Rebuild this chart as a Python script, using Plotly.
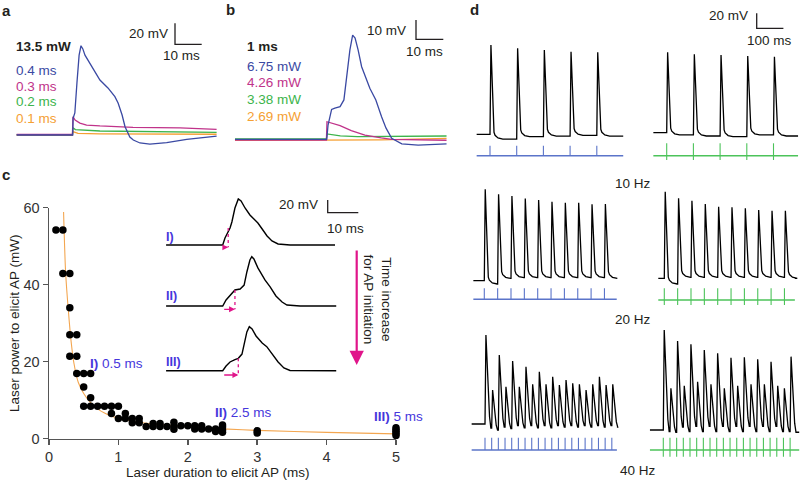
import plotly.graph_objects as go

W, H = 800, 480
FONT = "Arial, 'Liberation Sans', Helvetica, sans-serif"
INK = "#231f20"
BLUE = "#3a49a3"
MAGENTA = "#c0338a"
GREEN = "#3cb44b"
ORANGE = "#f5a033"
VIOLET = "#4636dc"
PINK = "#e0158a"
STIM_BLUE = "#5b74c9"
STIM_GREEN = "#4cc35a"

# ======================= DATA =======================
# --- a: 13.5 mW pulses of different durations (ms from light onset, mV from rest)
a_power_label = "13.5 mW"
a_labels = ["0.4 ms", "0.3 ms", "0.2 ms", "0.1 ms"]
a_t_04 = [-21, 0, 0.15, 0.8, 1.6, 2.4, 3.1, 3.8, 4.6, 6.5, 10.2, 13.2, 15.8, 17.0, 18.5, 19.6, 21.4, 22.7, 25.2, 28.9, 35.2, 42.7, 53.9]
a_v_04 = [0, 0, 16, 21, 50, 76, 85, 82, 76, 68.3, 52.4, 44.8, 36.5, 30.5, 19, 7.9, -1.9, -4.8, -7.6, -8.6, -7.3, -4.1, -1.0]
a_t_03 = [-21, -0.1, 0.1, 0.9, 2.7, 5.2, 10.2, 22.6, 40.2, 53.9]
a_v_03 = [0.5, 0.5, 17.4, 14.3, 11.4, 9.5, 8.6, 7.3, 6.7, 5.4]
a_t_02 = [-21, -0.1, 0.1, 1.0, 10.2, 30, 53.9]
a_v_02 = [0.3, 0.3, 7.0, 5.2, 3.8, 3.0, 2.5]
a_t_01 = [-21, -0.1, 0.1, 2.0, 10.2, 53.9]
a_v_01 = [-0.3, -0.3, 3.2, 1.5, 1.0, 0.7]

# --- b: 1 ms pulses of different powers
b_duration_label = "1 ms"
b_labels = ["6.75 mW", "4.26 mW", "3.38 mW", "2.69 mW"]
b_t_675 = [-33.6, 0, 0.5, 1.8, 3.0, 4.9, 6.3, 7.4, 8.5, 9.5, 10.4, 11.5, 12.8, 15.8, 18.0, 20.1, 21.7, 23.8, 27.5, 33.5, 43.9]
b_v_675 = [0, 0, 7.4, 15.5, 16.2, 16.9, 20.4, 33.3, 46.3, 54, 52.5, 46.3, 37.6, 26.4, 20.4, 11.7, 5.9, 0.5, -2.4, -3.0, -2.4]
b_t_426 = [-33.6, -0.1, 0.1, 2, 4.9, 9, 14, 20, 23.8, 43.9]
b_v_426 = [-0.4, -0.4, 9.1, 8.3, 7.1, 4.5, 2.2, 0.7, 0, -0.5]
b_t_338 = [-33.6, -0.1, 0.1, 5, 11.3, 43.9]
b_v_338 = [0.2, 0.2, 2.8, 1.8, 1.4, 1.7]
b_t_269 = [-33.6, 0, 20, 43.9]
b_v_269 = [-0.6, -0.6, -0.3, 0.5]

# --- c: threshold power vs pulse duration
c_duration = [0.1, 0.2, 0.2, 0.3, 0.3, 0.3, 0.4, 0.3, 0.4, 0.4, 0.5, 0.6, 0.5, 0.6,
              0.5, 0.6, 0.7, 0.8, 0.9, 1.0, 0.9, 1.1, 1.0, 1.1, 1.2, 1.3, 1.2, 1.3,
              1.4, 1.5, 1.5, 1.6, 1.6, 1.7, 1.8, 1.8, 1.8, 1.9, 2.0, 2.1, 2.1, 2.2, 2.2,
              2.3, 2.4, 2.4, 2.5, 2.5, 2.5, 2.5, 3.0, 3.0, 5.0, 5.0, 5.0, 5.0, 5.0]
c_power = [54.2, 54.2, 42.9, 42.9, 34.0, 27.0, 27.0, 21.4, 21.4, 16.9, 16.9, 16.9, 13.4, 10.6,
           8.4, 8.4, 8.4, 8.4, 8.4, 8.4, 6.5, 6.5, 5.2, 5.2, 5.2, 5.2, 4.1, 4.1,
           3.1, 3.9, 3.1, 3.9, 3.1, 3.1, 4.2, 3.1, 2.4, 3.3, 3.3, 3.3, 2.5, 3.3, 2.5,
           2.5, 2.5, 1.8, 3.5, 3.0, 2.2, 1.6, 2.0, 1.4, 2.8, 2.3, 1.8, 1.3, 0.8]
c_fit_t = [0.21, 0.24, 0.28, 0.32, 0.36, 0.42, 0.5, 0.6, 0.7, 0.8, 0.9, 1.0, 1.2, 1.5, 2.0, 2.5, 3.0, 4.0, 5.0]
c_fit_p = [58.9, 43, 33, 25, 19.5, 14.7, 11.7, 9.3, 7.7, 6.6, 5.8, 5.3, 4.5, 3.8, 3.0, 2.5, 2.1, 1.6, 1.2]
c_xticks = [0, 1, 2, 3, 4, 5]
c_yticks = [0, 20, 40, 60]
c_marks = ["I)", "II)", "III)"]
c_mark_values = ["0.5 ms", "2.5 ms", "5 ms"]

# inset traces (ms from light onset, mV from rest)
inset_t_I = [-18.5, 0, 0.75, 1.7, 2.4, 3.0, 4.0, 5.1, 6.0, 7.3, 8.9, 10.2, 11.5, 12.9, 14.5, 16.1, 18.1, 22, 36.7]
inset_v_I = [0, 0, 11, 20.5, 26.8, 36.2, 58.3, 72.5, 69.3, 58.3, 47.3, 41, 34.7, 25.2, 14.2, 6.3, 1.6, 0, 0]
inset_t_II = [-18.5, 0, 1.1, 2.4, 4.0, 5.7, 7.0, 7.9, 8.9, 9.5, 10.2, 11.5, 13.8, 15.5, 17.4, 19.4, 21, 25.3, 37.1]
inset_v_II = [0, 0, 9.5, 17.3, 25.2, 26.8, 33, 53.6, 72.5, 77.6, 74, 60, 41, 30, 15.8, 6.3, 1.6, 0, 0]
inset_t_III = [-18.5, 0, 1.1, 2.4, 4.0, 5.1, 6.3, 7.3, 7.9, 8.7, 9.6, 10.9, 12.9, 14.4, 16.1, 18.1, 20.0, 22, 37.1]
inset_v_III = [0, 0, 7.4, 13.7, 17.6, 19.5, 26.2, 45.2, 61, 69.3, 65.7, 54.7, 43.6, 37.8, 26.3, 13.7, 4.3, 0.3, 0]
inset_delay = [1.8, 4.0, 5.1]          # AP initiation time (ms)
inset_delay_v = [26.8, 25.2, 19.5]     # membrane potential at initiation (mV)

# --- d: trains (spike peak / following trough in mV from rest)
d_rates = ["10 Hz", "20 Hz", "40 Hz"]
d_interval = [100, 50, 25]
d10_blue_peaks = [119, 114.7, 112.4, 110.1, 109.3]
d10_blue_troughs = [-6.3, -3.2, -2.3, -1.3, -2.3]
d10_green_peaks = [107.2, 104.5, 103.6, 102.2, 101.3]
d10_green_troughs = [-3, -4.4, -5.3, -3, -4.4]
d20_blue_peaks = [121.9, 115.2, 112.9, 109.7, 107.6, 105.3, 104, 104, 101.8, 102.2]
d20_blue_troughs = [-4.4, 3, 4, 4, 4, 4, 4, 4, 4, 3]
d20_green_peaks = [115.5, 106.7, 103.4, 99, 95.5, 94.7, 93.3, 91.1, 90.1, 90.1]
d20_green_troughs = [-7.6, 1.3, 1.3, 1.3, 1.3, 1.3, 1.3, 1.3, 1.3, 0]
d40_blue_peaks = [118.7, 45.3, 92, 49.7, 84, 49.7, 76.4, 52.9, 69.7, 52.9,
                  63, 52, 58.7, 54.3, 52.9, 45.3, 52.9, 63, 52, 52.9]
d40_blue_troughs = [-5.3, -8, -4, -6, -2, -5, -2, -5, -2, -5,
                    -2, -4, -2, -4, -2, -4, -2, -4, -2, -4]
d40_green_peaks = [133.3, 55.6, 118.7, 58.9, 114.2, 64.4, 106.7, 60.9, 102.2, 55.6,
                   96.4, 58.9, 97, 60.9, 94.2, 60.9, 91.1, 58.9, 55.6, 97.8]
d40_green_troughs = [-2, -3, 4, -2, 5, -2, 5, -2, 5, -2,
                     5, -2, 5, -2, 5, -2, 5, -2, -2, -3]

# ======================= FIGURE =======================
fig = go.Figure()
layout = {}
AX = {}


def make_axes(idx, px_x, px_y, origin, upp):
    """hidden axis pair; px_x=(left,right), px_y=(top,bottom), origin px, units per px"""
    ox, oy = origin
    xs, ys = upp
    xn = "xaxis" if idx == 1 else f"xaxis{idx}"
    yn = "yaxis" if idx == 1 else f"yaxis{idx}"
    xr = "x" if idx == 1 else f"x{idx}"
    yr = "y" if idx == 1 else f"y{idx}"
    layout[xn] = dict(domain=[px_x[0] / W, px_x[1] / W],
                      range=[(px_x[0] - ox) * xs, (px_x[1] - ox) * xs],
                      visible=False, fixedrange=True, anchor=yr, automargin=False)
    layout[yn] = dict(domain=[1 - px_y[1] / H, 1 - px_y[0] / H],
                      range=[(oy - px_y[1]) * ys, (oy - px_y[0]) * ys],
                      visible=False, fixedrange=True, anchor=xr, automargin=False)
    AX[idx] = dict(x=xr, y=yr, origin=origin, upp=upp)


def to_data(idx, px, py):
    a = AX[idx]
    return (px - a["origin"][0]) * a["upp"][0], (a["origin"][1] - py) * a["upp"][1]


def line(idx, x, y, color, width=1.3, dash="solid"):
    fig.add_trace(go.Scatter(x=x, y=y, mode="lines", xaxis=AX[idx]["x"], yaxis=AX[idx]["y"],
                             line=dict(color=color, width=width, dash=dash),
                             hoverinfo="skip", showlegend=False, cliponaxis=False))


def scalebar(idx, px, py, dx, dy, color=INK):
    cx, cy = to_data(idx, px, py)
    line(idx, [cx, cx, cx + dx], [cy + dy, cy, cy], color, 1.3)


ann = []


def text(s, x, y, size=13.5, color=INK, xanchor="left", angle=0):
    ann.append(dict(text=s, x=x / W, y=1 - y / H, xref="paper", yref="paper",
                    showarrow=False, xanchor=xanchor, yanchor="middle", textangle=angle,
                    font=dict(family=FONT, size=size, color=color)))


# ---------- panel a ----------
make_axes(1, (10, 225), (15, 150), (72.7, 135), (10 / 26.7, 20 / 21))
for t, v, c in [(a_t_01, a_v_01, ORANGE), (a_t_02, a_v_02, GREEN),
                (a_t_03, a_v_03, MAGENTA), (a_t_04, a_v_04, BLUE)]:
    line(1, t, v, c)
scalebar(1, 175, 44.3, 10, 20)
text("<b>a</b>", 0, 10, 15)
text(f"<b>{a_power_label}</b>", 14, 46.7, 13.5)
for lab, yy, c in zip(a_labels, [70, 86, 101.7, 118.3], [BLUE, MAGENTA, GREEN, ORANGE]):
    text(lab, 14, yy, 13.5, c)
text("20 mV", 170, 33.3, 13.5, INK, "right")
text("10 ms", 181.5, 55, 13.5, INK, "center")

# ---------- panel b ----------
make_axes(2, (228, 450), (15, 150), (326.7, 139.3), (10 / 27.3, 10 / 19.3))
for t, v, c in [(b_t_269, b_v_269, ORANGE), (b_t_338, b_v_338, GREEN),
                (b_t_426, b_v_426, MAGENTA), (b_t_675, b_v_675, BLUE)]:
    line(2, t, v, c)
scalebar(2, 416, 39.3, 10, 10)
text("<b>b</b>", 224, 9, 15)
text(f"<b>{b_duration_label}</b>", 245, 46.7, 13.5)
for lab, yy, c in zip(b_labels, [66.7, 82.7, 99.3, 116.7], [BLUE, MAGENTA, GREEN, ORANGE]):
    text(lab, 245, yy, 13.5, c)
text("10 mV", 408, 30, 13.5, INK, "right")
text("10 ms", 424, 51.7, 13.5, INK, "center")

# ---------- panel c ----------
axstyle = dict(showline=True, linecolor="#555", linewidth=1.5, ticks="outside", ticklen=5,
               tickwidth=1.5, tickcolor="#555", showgrid=False, zeroline=False, automargin=False,
               tickfont=dict(family=FONT, size=14.5, color="#333"), fixedrange=True)
layout["xaxis3"] = dict(domain=[49 / W, 396 / W], range=[0, 5], tickvals=c_xticks,
                        anchor="y3", **axstyle)
layout["yaxis3"] = dict(domain=[1 - 438.5 / H, 1 - 207.7 / H], range=[0, 60], tickvals=c_yticks,
                        anchor="x3", **axstyle)
fig.add_trace(go.Scatter(x=c_fit_t, y=c_fit_p, mode="lines", xaxis="x3", yaxis="y3",
                         line=dict(color="#f3a650", width=1.1, shape="spline", smoothing=0.8),
                         hoverinfo="skip", showlegend=False))
fig.add_trace(go.Scatter(x=c_duration, y=c_power, mode="markers", xaxis="x3", yaxis="y3",
                         marker=dict(color="black", size=7.5), cliponaxis=False,
                         hoverinfo="skip", showlegend=False))
text("<b>c</b>", 0, 175, 15)
text("Laser duration to elicit AP (ms)", 218, 472, 13.5, INK, "center")
text("Laser power to elicit AP (mW)", 14, 323, 13.5, INK, "center", -90)
for m, val, (xx, yy) in zip(c_marks, c_mark_values, [(88, 363), (213, 412), (372, 416)]):
    text(f"<b>{m}</b> {val}", xx, yy, 13.5, VIOLET)

# inset
inset_rows = [(4, (190, 255), 245, inset_t_I, inset_v_I, 247.3, 236.7),
              (5, (250, 315), 306, inset_t_II, inset_v_II, 309.3, 296),
              (6, (315, 380), 370.7, inset_t_III, inset_v_III, 375, 361.7)]
for k, (idx, pyr, oy, t, v, arrow_py, lab_py) in enumerate(inset_rows):
    make_axes(idx, (160, 365), pyr, (222.7, oy), (10 / 30.6, 20 / 12.7))
    line(idx, t, v, "black", 1.4)
    _, va = to_data(idx, 0, arrow_py)
    line(idx, [inset_delay[k], inset_delay[k]], [inset_delay_v[k], va], PINK, 1.3, "dot")
    ann.append(dict(x=inset_delay[k], y=va, ax=0, ay=va, xref=AX[idx]["x"], yref=AX[idx]["y"],
                    axref=AX[idx]["x"], ayref=AX[idx]["y"], text="", showarrow=True,
                    arrowhead=2, arrowsize=0.9, arrowwidth=1.3, arrowcolor=PINK, standoff=0))
    text(f"<b>{c_marks[k]}</b>", 164, lab_py, 12.5, VIOLET)
scalebar(4, 327.7, 212.7, 10, 20)
text("20 mV", 320, 205, 13.5, INK, "right")
text("10 ms", 345, 228.3, 13.5, INK, "center")
ann.append(dict(x=356.7 / W, y=1 - 365 / H, xref="paper", yref="paper", ax=0, ay=-116,
                text="", showarrow=True, arrowhead=2, arrowsize=1.3, arrowwidth=2.2,
                arrowcolor=PINK, standoff=0))
text("Time increase<br>for AP initiation", 377.5, 299, 13.5, INK, "center", 90)


# ---------- panel d ----------
def train(interval, peaks, troughs, t_pre, t_end, fast):
    t, v = [t_pre], [0.0]
    prev = 0.0
    for k, (pk, lv) in enumerate(zip(peaks, troughs)):
        t0 = k * interval
        t.append(t0)
        v.append(prev)
        if fast:
            shape = [(3.5, pk), (17, lv + 0.12 * (pk - lv)), (22, lv)]
        else:
            shape = [(3.5, pk), (15, lv + 9), (19, lv + 5), (30, lv + 1.5), (48, lv)]
        for dt, val in shape:
            t.append(t0 + dt)
            v.append(val)
        prev = lv
    t.append(t_end)
    v.append(prev)
    return t, v


def stim(idx, n, interval, t_pre, t_end, py_line, py_top, py_bot, color):
    _, yl = to_data(idx, 0, py_line)
    _, yt = to_data(idx, 0, py_top)
    _, yb = to_data(idx, 0, py_bot)
    line(idx, [t_pre, t_end], [yl, yl], color, 1.5)
    xs, ys = [], []
    for k in range(n):
        xs += [k * interval, k * interval, None]
        ys += [yt, yb, None]
    line(idx, xs, ys, color, 1.1)


UPP_D = (100 / 26.7, 20 / 15)
d_rows = [
    # idx, px_x, px_y, origin, peaks, troughs, interval, t_pre, t_end, stim line, top, bottom, color
    (7, (468, 626), (10, 165), (490, 134.3), d10_blue_peaks, d10_blue_troughs, d_interval[0], -50, 499, 155.7, 145.7, 155.7, STIM_BLUE),
    (8, (645, 800), (5, 165), (666.7, 132.7), d10_green_peaks, d10_green_troughs, d_interval[0], -50, 492, 155.7, 143.3, 160, STIM_GREEN),
    (9, (465, 624), (180, 310), (484.3, 280.7), d20_blue_peaks, d20_blue_troughs, d_interval[1], -41, 496, 299.3, 288.3, 299.3, STIM_BLUE),
    (10, (650, 800), (180, 310), (664.3, 278.3), d20_green_peaks, d20_green_troughs, d_interval[1], -22.5, 489, 300, 288.3, 305, STIM_GREEN),
    (11, (465, 625), (320, 460), (485, 424), d40_blue_peaks, d40_blue_troughs, d_interval[2], -50, 494, 450, 437.7, 450, STIM_BLUE),
    (12, (645, 800), (320, 460), (663.3, 430), d40_green_peaks, d40_green_troughs, d_interval[2], -50, 509, 450, 437.7, 456.7, STIM_GREEN),
]
for idx, pxx, pxy, org, pk, tr, itv, tp, te, pl, ptop, pbot, col in d_rows:
    make_axes(idx, pxx, pxy, org, UPP_D)
    t, v = train(itv, pk, tr, tp, te, itv < 40)
    line(idx, t, v, "black", 1.3)
    stim(idx, len(pk), itv, tp, te, pl, ptop, pbot, col)

scalebar(8, 756.7, 28.3, 100, 20)
text("<b>d</b>", 468, 9, 15)
text("20 mV", 750, 15.7, 13.5, INK, "right")
text("100 ms", 769, 40, 13.5, INK, "center")
for lab, (xx, yy) in zip(d_rates, [(633.3, 183.3), (633.3, 319), (638.3, 470)]):
    text(lab, xx, yy, 13.5, INK, "center")

fig.update_layout(width=W, height=H, margin=dict(l=0, r=0, t=0, b=0, autoexpand=False),
                  paper_bgcolor="white", plot_bgcolor="white", showlegend=False,
                  annotations=ann, font=dict(family=FONT), **layout)
# the page's default 8 px body margin would shift the 800x480 figure; remove it
fig.write_html("out.html", config={"displayModeBar": False, "staticPlot": True},
               post_script="document.body.style.margin='0px';document.body.style.overflow='hidden';")
